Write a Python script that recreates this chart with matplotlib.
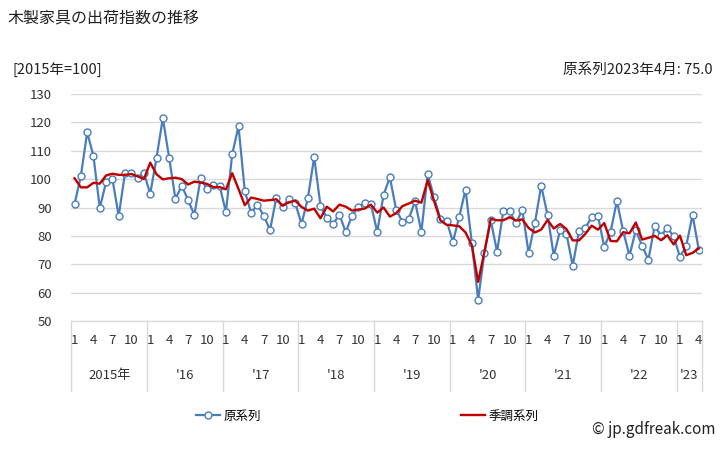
import numpy as np
import matplotlib
matplotlib.use("Agg")
import matplotlib.pyplot as plt
from matplotlib.lines import Line2D
import matplotlib.transforms as mtrans

plt.rcParams['font.family'] = ['Noto Sans CJK JP', 'DejaVu Sans']

# 原系列 (2015年1月〜2023年4月)
orig = [91.2, 101.1, 116.5, 108.1, 89.8, 99.0, 100.1, 87.0, 102.2, 102.2, 100.4, 102.2,
        94.8, 107.5, 121.5, 107.5, 93.0, 97.7, 92.6, 87.4, 100.4, 96.5, 98.0, 97.7,
        88.4, 108.8, 118.6, 95.8, 88.1, 91.0, 87.1, 82.1, 93.5, 90.1, 93.1, 91.5,
        84.2, 93.3, 107.8, 90.6, 86.4, 84.2, 87.5, 81.4, 87.0, 90.3, 91.6, 91.1,
        81.4, 94.4, 100.7, 89.2, 84.9, 86.0, 92.2, 81.4, 101.8, 93.6, 86.1, 85.3,
        77.9, 86.7, 96.3, 77.5, 57.5, 74.1, 85.5, 74.4, 88.8, 88.8, 84.4, 89.2,
        74.0, 84.5, 97.7, 87.4, 73.0, 82.0, 80.8, 69.5, 81.7, 82.6, 86.8, 87.1,
        76.1, 81.4, 92.3, 81.7, 73.0, 82.0, 76.5, 71.6, 83.6, 80.0, 82.9, 79.8,
        72.6, 76.5, 87.4, 75.0]

# 季調系列
sa = [100.3, 97.1, 97.1, 98.7, 98.4, 101.3, 101.9, 101.5, 101.5, 101.8, 101.0, 100.0,
      105.8, 101.7, 99.9, 100.3, 100.5, 100.0, 98.1, 99.1, 98.8, 98.3, 97.2, 97.2,
      96.4, 102.1, 96.5, 90.8, 93.5, 93.0, 92.4, 92.6, 92.9, 90.6, 91.9, 92.4,
      90.2, 88.9, 89.6, 86.2, 90.3, 88.6, 91.0, 90.3, 88.9, 89.3, 89.6, 91.0,
      88.2, 90.0, 86.8, 88.0, 90.5, 91.4, 92.4, 91.7, 99.6, 92.4, 85.5, 83.9,
      83.7, 83.4, 81.2, 76.7, 63.8, 74.4, 86.0, 85.5, 85.5, 86.6, 85.4, 85.8,
      82.8, 81.2, 82.2, 85.6, 82.6, 84.2, 82.4, 78.4, 78.4, 80.7, 83.6, 82.2,
      84.5, 78.2, 78.1, 81.3, 80.9, 84.7, 78.7, 79.3, 80.0, 78.5, 80.2, 77.0,
      80.1, 73.2, 74.0, 75.6]

years = ['2015年', "'16", "'17", "'18", "'19", "'20", "'21", "'22", "'23"]
month_labels = ['1', '4', '7', '10']

n = len(orig)
x = np.arange(n)
grid_c = '#d9d9d9'
blue = '#4a7ebb'
red = '#c00000'

fig = plt.figure(figsize=(7.28, 4.5), dpi=100)
ax = fig.add_axes([71.4 / 728, 1 - 321 / 450, (702 - 71.4) / 728, (321 - 94) / 450])

ax.plot(x, orig, color=blue, lw=1.6, marker='o', ms=5, mfc='white',
        mec=blue, mew=1.0, zorder=3)
ax.plot(x, sa, color=red, lw=1.7, zorder=4)

ax.set_xlim(-0.5, n - 0.5)
ax.set_ylim(50, 130)
ax.set_yticks(np.arange(50, 131, 10))
ax.yaxis.grid(True, color=grid_c, lw=1)
ax.set_axisbelow(True)
for s in ['left', 'right', 'top']:
    ax.spines[s].set_visible(False)
ax.spines['bottom'].set_color(grid_c)
ax.tick_params(axis='y', length=0, pad=14, labelsize=9.5, colors='#333333')
ax.set_xticks([])

# カテゴリ軸の月・年ラベルと区切り線
tr = mtrans.blended_transform_factory(ax.transData, ax.transAxes)
for k, yl in enumerate(years):
    start = k * 12
    end = min(start + 12, n)
    for j, m in enumerate(month_labels):
        pos = start + 3 * j
        if pos < n:
            ax.text(pos, -0.085, m, transform=tr, ha='center', va='center',
                    fontsize=9.5, color='#333333')
    ax.text((start + end - 1) / 2, -0.24, yl, transform=tr, ha='center',
            va='center', fontsize=9.5, color='#333333')
bounds = list(range(0, n, 12)) + [n]
for b in bounds:
    ax.plot([b - 0.5, b - 0.5], [0, -0.31], transform=tr, color=grid_c,
            lw=1, clip_on=False)

fig.text(8 / 728, 1 - 18 / 450, '木製家具の出荷指数の推移', fontsize=11.5,
         va='center', ha='left', color='#222222')
fig.text(12 / 728, 1 - 70 / 450, '[2015年=100]', fontsize=10.5,
         va='center', ha='left', color='#222222')
fig.text(713 / 728, 1 - 70 / 450, '原系列2023年4月: 75.0', fontsize=10.5,
         va='center', ha='right', color='#222222')

handles = [Line2D([], [], color=blue, lw=1.6, marker='o', ms=5, mfc='white',
                  mec=blue, mew=1.0),
           Line2D([], [], color=red, lw=1.7)]
fig.legend(handles, ['原系列', '季調系列'], loc='center', ncol=2,
           bbox_to_anchor=(0.505, 1 - 416 / 450), frameon=False, fontsize=9,
           handlelength=1.9, handletextpad=0.3, columnspacing=16)

fig.text(716 / 728, 1 - 429 / 450, '© jp.gdfreak.com', fontsize=11,
         ha='right', va='center', color='#222222')

fig.savefig('out.png', dpi=100)
